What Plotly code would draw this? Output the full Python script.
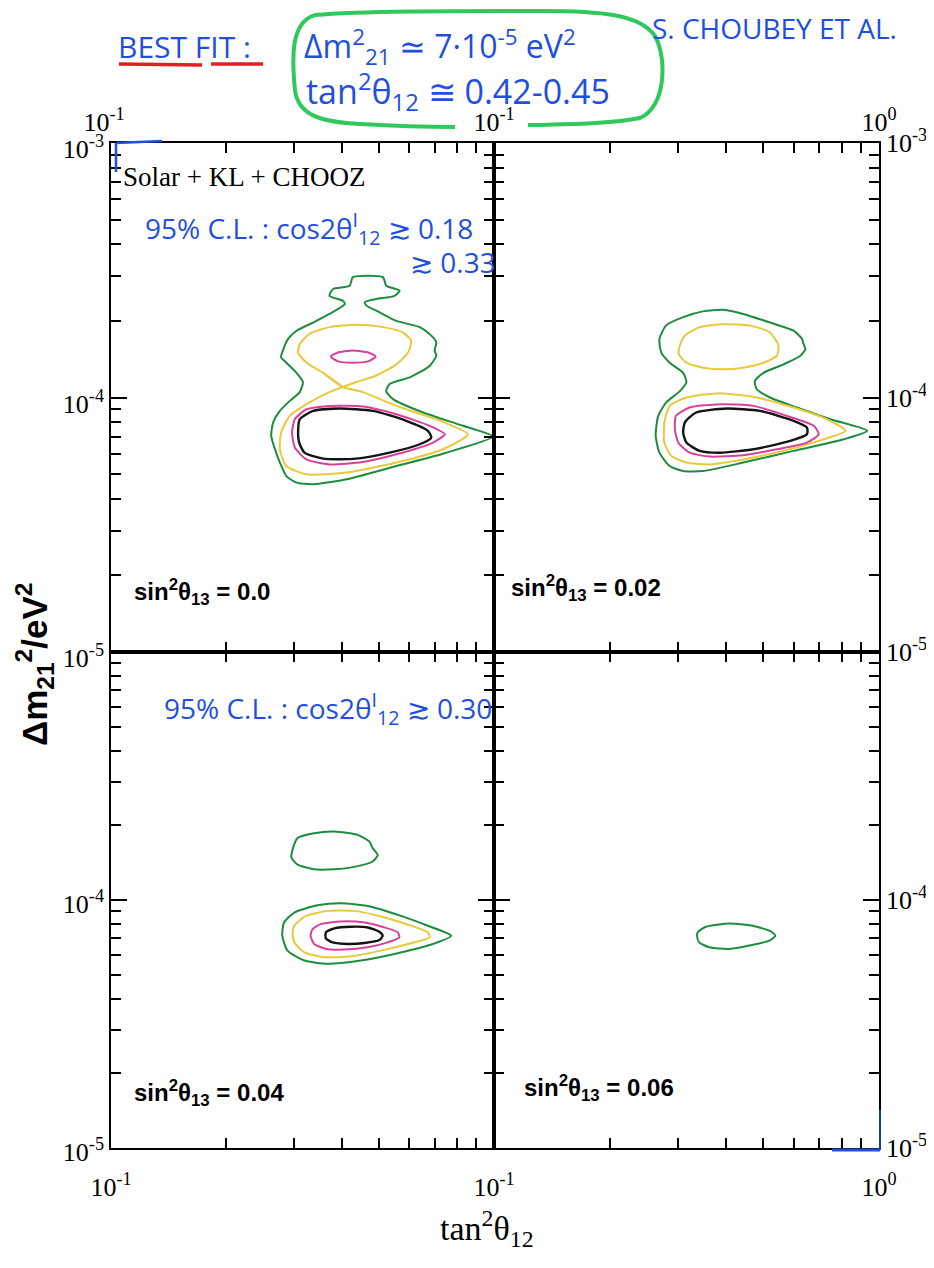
import plotly.graph_objects as go

# ---------------- data ----------------
# x = tan^2(theta12), y = Delta m^2_21 [eV^2]
# Panel sin^2(theta13) = 0.0
p00_green_x = [0.428, 0.513, 0.523, 0.567, 0.550, 0.493, 0.460, 0.464, 0.503, 0.556, 0.640, 0.686, 0.707, 0.700,
               0.707, 0.679, 0.602, 0.534, 0.523, 0.545, 0.653, 0.830, 0.994, 0.751, 0.556, 0.412, 0.337, 0.305,
               0.287, 0.276, 0.268, 0.262, 0.265, 0.276, 0.293, 0.311, 0.317, 0.305, 0.287, 0.278, 0.281, 0.290,
               0.305, 0.337, 0.372, 0.408, 0.403, 0.372, 0.380, 0.420, 0.428]
p00_green_y = [2.97e-4, 2.97e-4, 2.75e-4, 2.63e-4, 2.51e-4, 2.44e-4, 2.37e-4, 2.30e-4, 2.16e-4, 2.00e-4, 1.89e-4,
               1.75e-4, 1.65e-4, 1.53e-4, 1.46e-4, 1.33e-4, 1.20e-4, 1.13e-4, 1.06e-4, 9.85e-5, 8.73e-5, 7.74e-5,
               7.02e-5, 6.07e-5, 5.38e-5, 4.77e-5, 4.56e-5, 4.63e-5, 4.91e-5, 5.55e-5, 6.26e-5, 7.07e-5, 7.97e-5,
               8.86e-5, 9.70e-5, 1.05e-4, 1.15e-4, 1.25e-4, 1.37e-4, 1.44e-4, 1.53e-4, 1.70e-4, 1.83e-4, 1.97e-4,
               2.13e-4, 2.33e-4, 2.40e-4, 2.51e-4, 2.67e-4, 2.75e-4, 2.97e-4]
p00_yellow_x = [0.403, 0.358, 0.324, 0.308, 0.311, 0.330, 0.372, 0.437, 0.513, 0.579, 0.608, 0.596, 0.556, 0.493,
                0.437, 0.403, 0.372, 0.330, 0.293, 0.278, 0.276, 0.287, 0.324, 0.412, 0.556, 0.736, 0.855, 0.707,
                0.556, 0.455, 0.403, 0.358]
p00_yellow_y = [1.10e-4, 1.25e-4, 1.37e-4, 1.50e-4, 1.62e-4, 1.78e-4, 1.89e-4, 1.93e-4, 1.89e-4, 1.80e-4, 1.67e-4,
                1.50e-4, 1.35e-4, 1.22e-4, 1.15e-4, 1.10e-4, 1.05e-4, 9.56e-5, 8.47e-5, 7.28e-5, 6.26e-5, 5.38e-5,
                4.99e-5, 5.07e-5, 5.55e-5, 6.26e-5, 7.17e-5, 8.21e-5, 9.27e-5, 1.05e-4, 1.10e-4, 1.25e-4]
p00_pink_hi_x = [0.375, 0.390, 0.428, 0.471, 0.491, 0.471, 0.428, 0.390, 0.375]
p00_pink_hi_y = [1.45e-4, 1.50e-4, 1.53e-4, 1.50e-4, 1.45e-4, 1.39e-4, 1.37e-4, 1.39e-4, 1.45e-4]
p00_pink_x = [0.302, 0.324, 0.372, 0.455, 0.556, 0.679, 0.744, 0.693, 0.556, 0.455, 0.372, 0.324, 0.302, 0.297, 0.302]
p00_pink_y = [8.21e-5, 8.99e-5, 9.27e-5, 9.22e-5, 8.60e-5, 7.74e-5, 7.17e-5, 6.65e-5, 5.98e-5, 5.58e-5, 5.46e-5,
              5.71e-5, 6.36e-5, 7.28e-5, 8.21e-5]
p00_black_x = [0.311, 0.337, 0.395, 0.483, 0.590, 0.672, 0.686, 0.640, 0.534, 0.437, 0.358, 0.320, 0.310, 0.308, 0.311]
p00_black_y = [8.21e-5, 8.86e-5, 9.05e-5, 8.86e-5, 8.10e-5, 7.40e-5, 6.96e-5, 6.55e-5, 6.07e-5, 5.75e-5, 5.75e-5,
               6.07e-5, 6.65e-5, 7.40e-5, 8.21e-5]

# Panel sin^2(theta13) = 0.02
p02_green_x = [0.280, 0.310, 0.349, 0.394, 0.444, 0.521, 0.600, 0.631, 0.637, 0.644, 0.625, 0.565, 0.501, 0.476,
               0.481, 0.521, 0.612, 0.748, 0.932, 0.810, 0.600, 0.444, 0.349, 0.310, 0.286, 0.269, 0.263, 0.267,
               0.280, 0.304, 0.316, 0.310, 0.286, 0.272, 0.269, 0.280]
p02_green_y = [1.92e-4, 2.07e-4, 2.18e-4, 2.21e-4, 2.13e-4, 1.97e-4, 1.83e-4, 1.70e-4, 1.62e-4, 1.55e-4, 1.46e-4,
               1.35e-4, 1.25e-4, 1.16e-4, 1.08e-4, 1.00e-4, 9.13e-5, 8.21e-5, 7.40e-5, 6.85e-5, 6.17e-5, 5.55e-5,
               5.14e-5, 5.14e-5, 5.38e-5, 6.07e-5, 7.07e-5, 8.47e-5, 9.56e-5, 1.06e-4, 1.15e-4, 1.25e-4, 1.37e-4,
               1.50e-4, 1.70e-4, 1.92e-4]
p02_yellow_hi_x = [0.304, 0.313, 0.342, 0.394, 0.462, 0.521, 0.548, 0.543, 0.501, 0.444, 0.394, 0.349, 0.316, 0.302, 0.304]
p02_yellow_hi_y = [1.60e-4, 1.75e-4, 1.89e-4, 1.94e-4, 1.92e-4, 1.80e-4, 1.60e-4, 1.46e-4, 1.37e-4, 1.31e-4, 1.29e-4,
                   1.31e-4, 1.37e-4, 1.48e-4, 1.60e-4]
p02_yellow_x = [0.286, 0.316, 0.386, 0.481, 0.600, 0.733, 0.819, 0.719, 0.565, 0.444, 0.364, 0.316, 0.289, 0.277, 0.277, 0.286]
p02_yellow_y = [9.27e-5, 1.00e-4, 1.04e-4, 1.00e-4, 9.13e-5, 8.21e-5, 7.40e-5, 6.85e-5, 6.17e-5, 5.71e-5, 5.46e-5,
                5.55e-5, 5.89e-5, 6.65e-5, 7.97e-5, 9.27e-5]
p02_pink_x = [0.297, 0.322, 0.386, 0.472, 0.576, 0.677, 0.697, 0.650, 0.543, 0.444, 0.364, 0.322, 0.301, 0.295, 0.297]
p02_pink_y = [8.47e-5, 9.13e-5, 9.41e-5, 9.27e-5, 8.47e-5, 7.74e-5, 7.17e-5, 6.65e-5, 6.26e-5, 5.93e-5, 5.86e-5,
              6.07e-5, 6.65e-5, 7.50e-5, 8.47e-5]
p02_black_x = [0.313, 0.335, 0.402, 0.491, 0.600, 0.650, 0.650, 0.588, 0.472, 0.386, 0.342, 0.316, 0.310, 0.313]
p02_black_y = [7.97e-5, 8.73e-5, 9.05e-5, 8.86e-5, 8.10e-5, 7.62e-5, 7.17e-5, 6.75e-5, 6.26e-5, 6.07e-5, 6.17e-5,
               6.65e-5, 7.28e-5, 7.97e-5]

# Panel sin^2(theta13) = 0.04
p04_green_hi_x = [0.298, 0.307, 0.339, 0.383, 0.441, 0.473, 0.482, 0.497, 0.482, 0.432, 0.383, 0.339, 0.307, 0.296, 0.298]
p04_green_hi_y = [1.60e-4, 1.78e-4, 1.86e-4, 1.89e-4, 1.83e-4, 1.72e-4, 1.62e-4, 1.52e-4, 1.43e-4, 1.36e-4, 1.33e-4,
                  1.33e-4, 1.39e-4, 1.48e-4, 1.60e-4]
p04_green_x = [0.283, 0.301, 0.346, 0.398, 0.468, 0.572, 0.672, 0.773, 0.672, 0.550, 0.449, 0.368, 0.320, 0.289, 0.280, 0.283]
p04_green_y = [8.11e-5, 8.90e-5, 9.52e-5, 9.70e-5, 9.46e-5, 8.63e-5, 7.87e-5, 7.18e-5, 6.55e-5, 6.06e-5, 5.70e-5,
               5.53e-5, 5.70e-5, 6.25e-5, 7.18e-5, 8.11e-5]
p04_yellow_x = [0.301, 0.320, 0.368, 0.432, 0.518, 0.608, 0.672, 0.679, 0.620, 0.507, 0.423, 0.361, 0.320, 0.301, 0.298, 0.301]
p04_yellow_y = [7.87e-5, 8.57e-5, 9.04e-5, 9.04e-5, 8.50e-5, 7.87e-5, 7.40e-5, 7.07e-5, 6.75e-5, 6.25e-5, 5.93e-5,
                5.88e-5, 6.15e-5, 6.75e-5, 7.40e-5, 7.87e-5]
p04_pink_x = [0.336, 0.353, 0.398, 0.459, 0.518, 0.561, 0.566, 0.528, 0.468, 0.407, 0.364, 0.339, 0.332, 0.336]
p04_pink_y = [7.63e-5, 7.99e-5, 8.19e-5, 8.11e-5, 7.75e-5, 7.40e-5, 7.07e-5, 6.75e-5, 6.45e-5, 6.31e-5, 6.35e-5,
              6.65e-5, 7.18e-5, 7.63e-5]
p04_black_x = [0.364, 0.383, 0.423, 0.468, 0.502, 0.512, 0.502, 0.459, 0.415, 0.379, 0.364, 0.364]
p04_black_y = [7.40e-5, 7.68e-5, 7.80e-5, 7.75e-5, 7.45e-5, 7.18e-5, 6.90e-5, 6.71e-5, 6.65e-5, 6.75e-5, 7.00e-5, 7.40e-5]

# Panel sin^2(theta13) = 0.06
p06_green_x = [0.338, 0.355, 0.409, 0.470, 0.524, 0.538, 0.519, 0.460, 0.409, 0.362, 0.341, 0.337, 0.338]
p06_green_y = [7.40e-5, 7.80e-5, 8.04e-5, 7.87e-5, 7.47e-5, 7.18e-5, 6.86e-5, 6.55e-5, 6.35e-5, 6.45e-5, 6.75e-5,
               7.11e-5, 7.40e-5]

# axis ticks
x_range_log = [-1, 0]
y_range_log = [-5, -3]
x_minor = [0.2, 0.3, 0.4, 0.5, 0.6, 0.7, 0.8, 0.9]
y_minor = [2e-5, 3e-5, 4e-5, 5e-5, 6e-5, 7e-5, 8e-5, 9e-5, 2e-4, 3e-4, 4e-4, 5e-4, 6e-4, 7e-4, 8e-4, 9e-4]
panel_labels = ["sin<sup>2</sup>θ<sub>13</sub> = 0.0", "sin<sup>2</sup>θ<sub>13</sub> = 0.02",
                "sin<sup>2</sup>θ<sub>13</sub> = 0.04", "sin<sup>2</sup>θ<sub>13</sub> = 0.06"]

# ---------------- figure ----------------
PAGE_OFF = 8          # default body margin of the html page
W, H = 934 - PAGE_OFF, 1268 - PAGE_OFF
XL, XM, XR = 111, 494, 879      # page pixels of panel edges
YT, YM, YB = 143, 652, 1148


def fx(px):
    return (px - PAGE_OFF) / W


def fy(py):
    return 1 - (py - PAGE_OFF) / H


GREEN = "#1e8c3e"
YELLOW = "#e9c93c"
PINK = "#d9409c"
BLACK = "#141414"
BLUE = "#1f4fe0"
SERIF = "Liberation Serif"
SANS = "Liberation Sans"

fig = go.Figure()


def add_contour(x, y, color, n, width=2.0):
    fig.add_trace(go.Scatter(
        x=x, y=y, mode="lines",
        line=dict(color=color, width=width, shape="spline", smoothing=0.6),
        xaxis="x" + ("" if n == 1 else str(n)), yaxis="y" + ("" if n == 1 else str(n)),
        showlegend=False, hoverinfo="skip"))


add_contour(p00_green_x, p00_green_y, GREEN, 1)
add_contour(p00_yellow_x, p00_yellow_y, YELLOW, 1)
add_contour(p00_pink_hi_x, p00_pink_hi_y, PINK, 1)
add_contour(p00_pink_x, p00_pink_y, PINK, 1)
add_contour(p00_black_x, p00_black_y, BLACK, 1, 2.4)

add_contour(p02_green_x, p02_green_y, GREEN, 2)
add_contour(p02_yellow_hi_x, p02_yellow_hi_y, YELLOW, 2)
add_contour(p02_yellow_x, p02_yellow_y, YELLOW, 2)
add_contour(p02_pink_x, p02_pink_y, PINK, 2)
add_contour(p02_black_x, p02_black_y, BLACK, 2, 2.4)

add_contour(p04_green_hi_x, p04_green_hi_y, GREEN, 3)
add_contour(p04_green_x, p04_green_y, GREEN, 3)
add_contour(p04_yellow_x, p04_yellow_y, YELLOW, 3)
add_contour(p04_pink_x, p04_pink_y, PINK, 3)
add_contour(p04_black_x, p04_black_y, BLACK, 3, 2.4)

add_contour(p06_green_x, p06_green_y, GREEN, 4)

tickfont = dict(family=SERIF, size=26, color="black")


def xax(dom, anchor, side, tv, tt, standoff=0, shift=0):
    d = dict(domain=dom, anchor=anchor, type="log", range=x_range_log, side=side,
             tickmode="array", tickvals=tv, ticktext=tt, automargin=False,
             ticks="inside", ticklen=10, tickwidth=1.6, tickcolor="black",
             showline=True, linecolor="black", linewidth=1.6, mirror="allticks",
             showgrid=False, zeroline=False, tickfont=tickfont, fixedrange=True,
             minor=dict(tickmode="array", tickvals=x_minor, ticks="inside", ticklen=10,
                        tickwidth=1.6, tickcolor="black", showgrid=False))
    if standoff:
        d["ticklabelstandoff"] = standoff
    if shift:
        d["ticklabelshift"] = shift
    return d


def yax(dom, anchor, side, tv, tt, shift=0):
    d = dict(domain=dom, anchor=anchor, type="log", range=y_range_log, side=side,
             tickmode="array", tickvals=tv, ticktext=tt, automargin=False,
             ticks="inside", ticklen=16, tickwidth=1.6, tickcolor="black",
             showline=True, linecolor="black", linewidth=1.6, mirror="allticks",
             showgrid=False, zeroline=False, tickfont=tickfont, fixedrange=True,
             minor=dict(tickmode="array", tickvals=y_minor, ticks="inside", ticklen=10,
                        tickwidth=1.6, tickcolor="black", showgrid=False))
    if shift:
        d["ticklabelshift"] = shift
    return d


xd_left = [fx(XL), fx(XM)]
xd_right = [fx(XM), fx(XR)]
yd_top = [fy(YM), fy(YT)]
yd_bot = [fy(YB), fy(YM)]

e = lambda s: "10<sup>" + s + "</sup>"

fig.update_layout(
    width=W, height=H, margin=dict(l=0, r=0, t=0, b=0, autoexpand=False),
    paper_bgcolor="white", plot_bgcolor="white", showlegend=False,
    xaxis=xax(xd_left, "y", "top", [0.1], [e("-1")], shift=-7),
    yaxis=yax(yd_top, "x", "left", [1e-5, 1e-4, 1e-3], [e("-5"), e("-4"), e("-3")], shift=6),
    xaxis2=xax(xd_right, "y2", "top", [0.1, 1], [e("-1"), e("0")]),
    yaxis2=yax(yd_top, "x2", "right", [1e-5, 1e-4, 1e-3], [e("-5"), e("-4"), e("-3")]),
    xaxis3=xax(xd_left, "y3", "bottom", [0.1], [e("-1")], standoff=15),
    yaxis3=yax(yd_bot, "x3", "left", [1e-5, 1e-4], [e("-5"), e("-4")], shift=4),
    xaxis4=xax(xd_right, "y4", "bottom", [0.1, 1], [e("-1"), e("0")], standoff=15),
    yaxis4=yax(yd_bot, "x4", "right", [1e-5, 1e-4], [e("-5"), e("-4")]),
)

ann = []


def text(px, py, s, font, xanchor="left", yanchor="middle", angle=0):
    ann.append(dict(x=fx(px), y=fy(py), xref="paper", yref="paper", text=s, showarrow=False,
                    xanchor=xanchor, yanchor=yanchor, font=font, textangle=angle))


# printed labels
text(121, 177, "Solar + KL + CHOOZ", dict(family=SERIF, size=27, color="black"))
lab_font = dict(family=SANS, size=24, color="black")
text(132, 592, "<b>" + panel_labels[0] + "</b>", lab_font)
text(509, 588, "<b>" + panel_labels[1] + "</b>", lab_font)
text(132, 1093, "<b>" + panel_labels[2] + "</b>", lab_font)
text(522, 1088, "<b>" + panel_labels[3] + "</b>", lab_font)
text(487, 1228, "tan<sup>2</sup>θ<sub>12</sub>", dict(family=SERIF, size=34, color="black"), xanchor="center")
text(34, 665, "<b>Δm<sub>21</sub><sup>2</sup>/eV<sup>2</sup></b>", dict(family=SANS, size=35, color="black"),
     xanchor="center", angle=-90)

# handwritten notes
hw = dict(family="Open Sans", size=32, color=BLUE)
text(116, 46, "BEST FIT :", dict(family="Open Sans", size=30, color=BLUE))
text(302, 46, "Δm<sup>2</sup><sub>21</sub> ≃ 7·10<sup>-5</sup> eV<sup>2</sup>", hw)
text(304, 92, "tan<sup>2</sup>θ<sub>12</sub> ≅ 0.42-0.45", dict(family="Open Sans", size=34, color=BLUE))
text(650, 28, "S. CHOUBEY ET AL.", dict(family="Open Sans", size=28, color=BLUE))
hw2 = dict(family="Open Sans", size=28, color=BLUE)
text(143, 228, "95% C.L. : cos2θ<sup>I</sup><sub>12</sub> ≳ 0.18", hw2)
text(408, 262, "≳ 0.33", hw2)
text(162, 708, "95% C.L. : cos2θ<sup>I</sup><sub>12</sub> ≳ 0.30", hw2)
fig.update_layout(annotations=ann)

# decorative pen marks
shapes = []


def line(x0, y0, x1, y1, color, width):
    shapes.append(dict(type="line", xref="paper", yref="paper", x0=fx(x0), y0=fy(y0), x1=fx(x1), y1=fy(y1),
                       line=dict(color=color, width=width)))


line(119, 64, 202, 65, "#e02020", 3.5)
line(211, 64, 263, 64, "#e02020", 3.5)
line(116, 172, 116, 143, BLUE, 2.5)
line(116, 143, 162, 141, BLUE, 2.5)
line(832, 1150, 880, 1150, BLUE, 3)
line(880, 1150, 880, 1110, BLUE, 1.5)

loop_pts = [(528, 125), (565, 124), (610, 124), (640, 118), (665, 108), (668, 60), (655, 36),
            (640, 14), (600, 11), (540, 11), (450, 11), (360, 11), (315, 15), (290, 22), (292, 60), (295, 90),
            (298, 115), (320, 122), (360, 124), (395, 126), (425, 127), (455, 127)]
path = "M %.4f,%.4f" % (fx(loop_pts[0][0]), fy(loop_pts[0][1]))
for i in range(1, len(loop_pts), 3):
    seg = loop_pts[i:i + 3]
    path += " C " + " ".join("%.4f,%.4f" % (fx(a), fy(b)) for a, b in seg)
shapes.append(dict(type="path", xref="paper", yref="paper", path=path, line=dict(color="#2fc85a", width=4)))
fig.update_layout(shapes=shapes)

fig.write_html("out.html")
